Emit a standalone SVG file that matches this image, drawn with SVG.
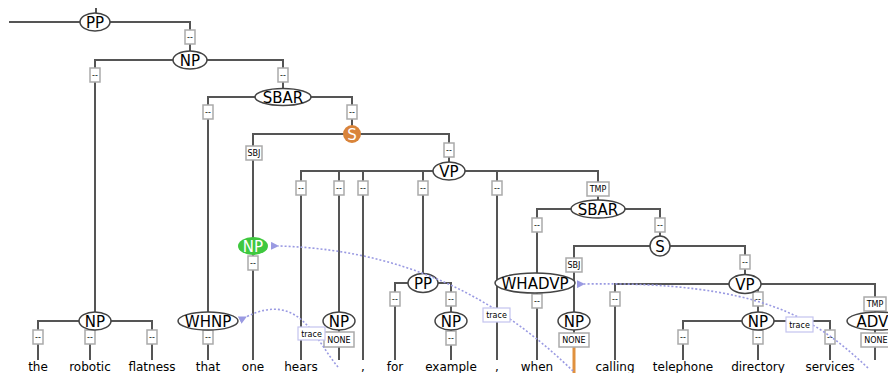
<svg xmlns="http://www.w3.org/2000/svg" width="888" height="373" viewBox="0 0 888 373">
<style>
text{font-family:"DejaVu Sans","Liberation Sans",sans-serif;text-anchor:middle;fill:#000}
.e{stroke:#555;stroke-width:2;fill:none}
.n{fill:#fff;stroke:#444;stroke-width:1.5}
.nt{font-size:15px}
.b{fill:#fff;stroke:#aaa;stroke-width:1.5}
.bt{font-size:8px}
.w{font-size:12px}
.tr{stroke:#9a9ae2;stroke-width:1.6;stroke-dasharray:2 2;fill:none;marker-end:url(#ah)}
.tb{fill:#fff;stroke:#c4c4ee;stroke-width:1.2}
</style>
<defs>
<marker id="ah" markerWidth="8" markerHeight="8" refX="1" refY="4" orient="auto-start-reverse" markerUnits="userSpaceOnUse">
<path d="M0 4 L8 0 L8 8 Z" fill="#9a9ae2"/>
</marker>
</defs>
<rect width="888" height="373" fill="#fff"/>
<g id="connectors">
<path class="e" d="M96 8 V14"/>
<path class="e" d="M9 22 H80"/>
<path class="e" d="M95 22 H190 V60"/>
<path class="e" d="M190 60 H95 V321"/>
<path class="e" d="M190 60 H283 V97"/>
<path class="e" d="M283 97 H208 V321"/>
<path class="e" d="M283 97 H352 V134"/>
<path class="e" d="M352 134 H253 V246"/>
<path class="e" d="M352 134 H449 V171"/>
<path class="e" d="M449 171 H301 V360"/>
<path class="e" d="M449 171 H339 V321"/>
<path class="e" d="M449 171 H363 V360"/>
<path class="e" d="M449 171 H423 V283"/>
<path class="e" d="M449 171 H497 V360"/>
<path class="e" d="M449 171 H598 V209"/>
<path class="e" d="M95 321 H38 V360"/>
<path class="e" d="M95 321 H90 V360"/>
<path class="e" d="M95 321 H152 V360"/>
<path class="e" d="M208 321 V360"/>
<path class="e" d="M253 246 V360"/>
<path class="e" d="M339 321 V360"/>
<path class="e" d="M423 283 H395 V360"/>
<path class="e" d="M423 283 H451 V321"/>
<path class="e" d="M451 321 V360"/>
<path class="e" d="M598 209 H537 V283"/>
<path class="e" d="M598 209 H660 V246"/>
<path class="e" d="M537 283 V360"/>
<path class="e" d="M660 246 H574 V321"/>
<path class="e" d="M660 246 H745 V284"/>
<path class="e" d="M574 321 V347"/>
<path d="M574 347 V373" stroke="#e0913e" stroke-width="3" fill="none"/>
<path class="e" d="M745 284 H615 V360"/>
<path class="e" d="M745 284 H758 V321"/>
<path class="e" d="M745 284 H875 V321"/>
<path class="e" d="M758 321 H683 V360"/>
<path class="e" d="M758 321 V360"/>
<path class="e" d="M758 321 H830 V360"/>
<path class="e" d="M875 321 V360"/>
</g>
<g id="edge-labels">
<rect class="b" x="185" y="30" width="10" height="14"/><text class="bt" x="190" y="40">--</text>
<rect class="b" x="90" y="68" width="10" height="14"/><text class="bt" x="95" y="78">--</text>
<rect class="b" x="278" y="68" width="10" height="14"/><text class="bt" x="283" y="78">--</text>
<rect class="b" x="203" y="105" width="10" height="14"/><text class="bt" x="208" y="115">--</text>
<rect class="b" x="347" y="105" width="10" height="14"/><text class="bt" x="352" y="115">--</text>
<rect class="b" x="246" y="146" width="16" height="14"/><text class="bt" x="254" y="156">SBJ</text>
<rect class="b" x="444" y="143" width="10" height="14"/><text class="bt" x="449" y="153">--</text>
<rect class="b" x="296" y="181" width="10" height="14"/><text class="bt" x="301" y="191">--</text>
<rect class="b" x="334" y="181" width="10" height="14"/><text class="bt" x="339" y="191">--</text>
<rect class="b" x="358" y="181" width="10" height="14"/><text class="bt" x="363" y="191">--</text>
<rect class="b" x="418" y="181" width="10" height="14"/><text class="bt" x="423" y="191">--</text>
<rect class="b" x="492" y="181" width="10" height="14"/><text class="bt" x="497" y="191">--</text>
<rect class="b" x="587" y="182" width="22" height="14"/><text class="bt" x="598" y="192">TMP</text>
<rect class="b" x="33" y="330" width="10" height="14"/><text class="bt" x="38" y="340">--</text>
<rect class="b" x="85" y="330" width="10" height="14"/><text class="bt" x="90" y="340">--</text>
<rect class="b" x="147" y="330" width="10" height="14"/><text class="bt" x="152" y="340">--</text>
<rect class="b" x="203" y="330" width="10" height="14"/><text class="bt" x="208" y="340">--</text>
<rect class="b" x="248" y="256" width="10" height="14"/><text class="bt" x="253" y="266">--</text>
<rect class="b" x="324" y="332" width="30" height="15"/><text class="bt" x="339" y="343">NONE</text>
<rect class="b" x="390" y="292" width="10" height="14"/><text class="bt" x="395" y="302">--</text>
<rect class="b" x="446" y="292" width="10" height="14"/><text class="bt" x="451" y="302">--</text>
<rect class="b" x="446" y="331" width="10" height="14"/><text class="bt" x="451" y="341">--</text>
<rect class="b" x="532" y="218" width="10" height="14"/><text class="bt" x="537" y="228">--</text>
<rect class="b" x="655" y="218" width="10" height="14"/><text class="bt" x="660" y="228">--</text>
<rect class="b" x="532" y="294" width="10" height="14"/><text class="bt" x="537" y="304">--</text>
<rect class="b" x="566" y="258" width="16" height="14"/><text class="bt" x="574" y="268">SBJ</text>
<rect class="b" x="740" y="255" width="10" height="14"/><text class="bt" x="745" y="265">--</text>
<rect class="b" x="559" y="333" width="30" height="14"/><text class="bt" x="574" y="343">NONE</text>
<rect class="b" x="610" y="292" width="10" height="14"/><text class="bt" x="615" y="302">--</text>
<rect class="b" x="753" y="292" width="10" height="14"/><text class="bt" x="758" y="302">--</text>
<rect class="b" x="864" y="297" width="22" height="14"/><text class="bt" x="875" y="307">TMP</text>
<rect class="b" x="678" y="330" width="10" height="14"/><text class="bt" x="683" y="340">--</text>
<rect class="b" x="753" y="330" width="10" height="14"/><text class="bt" x="758" y="340">--</text>
<rect class="b" x="825" y="330" width="10" height="14"/><text class="bt" x="830" y="340">--</text>
<rect class="b" x="861" y="333" width="30" height="14"/><text class="bt" x="876" y="343">NONE</text>
</g>
<g id="nodes">
<g id="n-pp1"><ellipse class="n" cx="95" cy="22" rx="15" ry="9"/><text class="nt" x="95" y="27.5">PP</text></g>
<g id="n-np1"><ellipse class="n" cx="190" cy="60" rx="17" ry="9"/><text class="nt" x="190" y="65.5">NP</text></g>
<g id="n-np2"><ellipse class="n" cx="95" cy="321" rx="16" ry="9"/><text class="nt" x="95" y="326.5">NP</text></g>
<g id="n-sbar1"><ellipse class="n" cx="283" cy="97" rx="28" ry="8.5"/><text class="nt" x="283" y="102.5">SBAR</text></g>
<g id="n-whnp"><ellipse class="n" cx="208" cy="321" rx="30" ry="9"/><text class="nt" x="208" y="326.5">WHNP</text></g>
<g id="n-s1"><circle cx="352" cy="134" r="9" fill="#d9843a"/><text class="nt" x="352" y="139.5" style="fill:#fff">S</text></g>
<g id="n-np-green"><ellipse cx="253" cy="246" rx="15" ry="9" fill="#3fc83f"/><text class="nt" x="253" y="251.5" style="fill:#fff">NP</text></g>
<g id="n-vp1"><ellipse class="n" cx="449" cy="171" rx="16" ry="9"/><text class="nt" x="449" y="176.5">VP</text></g>
<g id="n-np3"><ellipse class="n" cx="339" cy="321" rx="16" ry="9"/><text class="nt" x="339" y="326.5">NP</text></g>
<g id="n-pp2"><ellipse class="n" cx="423" cy="283" rx="15" ry="9.5"/><text class="nt" x="423" y="288.5">PP</text></g>
<g id="n-np4"><ellipse class="n" cx="451" cy="321" rx="16" ry="9"/><text class="nt" x="451" y="326.5">NP</text></g>
<g id="n-sbar2"><ellipse class="n" cx="598" cy="209" rx="27" ry="9"/><text class="nt" x="598" y="214.5">SBAR</text></g>
<g id="n-whadvp"><ellipse class="n" cx="535" cy="283" rx="40" ry="10"/><text class="nt" x="535" y="288.5">WHADVP</text></g>
<g id="n-s2"><circle class="n" cx="660" cy="246" r="10"/><text class="nt" x="660" y="251.5">S</text></g>
<g id="n-np5"><ellipse class="n" cx="574" cy="321" rx="16" ry="9"/><text class="nt" x="574" y="326.5">NP</text></g>
<g id="n-vp2"><ellipse class="n" cx="745" cy="284" rx="16" ry="9.5"/><text class="nt" x="745" y="289.5">VP</text></g>
<g id="n-np6"><ellipse class="n" cx="758" cy="321" rx="16" ry="9"/><text class="nt" x="758" y="326.5">NP</text></g>
<g id="n-advp"><ellipse class="n" cx="877" cy="321" rx="30" ry="9"/><text class="nt" x="877" y="326.5">ADVP</text></g>
</g>
<g id="words">
<text class="w" x="38" y="371">the</text>
<text class="w" x="90" y="371">robotic</text>
<text class="w" x="152" y="371">flatness</text>
<text class="w" x="208" y="371">that</text>
<text class="w" x="253" y="371">one</text>
<text class="w" x="301" y="371">hears</text>
<text class="w" x="363" y="371">,</text>
<text class="w" x="395" y="371">for</text>
<text class="w" x="451" y="371">example</text>
<text class="w" x="497" y="371">,</text>
<text class="w" x="537" y="371">when</text>
<text class="w" x="615" y="371">calling</text>
<text class="w" x="683" y="371">telephone</text>
<text class="w" x="758" y="371">directory</text>
<text class="w" x="830" y="371">services</text>
</g>
<g id="traces">
<path class="tr" d="M573 371 C520 320 430 250 278 246"/>
<path class="tr" d="M338 367 C315 340 300 290 246 317"/>
<path class="tr" d="M868 368 C815 318 760 281 584 284"/>
<rect class="tb" x="298" y="327" width="27" height="13"/><text class="bt" x="311.5" y="336.5">trace</text>
<rect class="tb" x="483" y="308" width="27" height="14"/><text class="bt" x="496.5" y="318">trace</text>
<rect class="tb" x="786" y="317" width="27" height="15"/><text class="bt" x="799.5" y="327.5">trace</text>
</g>
</svg>
